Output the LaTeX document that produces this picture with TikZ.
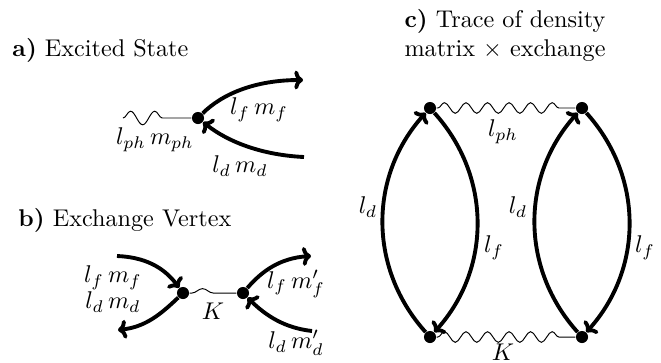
\documentclass[tikz,border=0pt]{standalone}
\usetikzlibrary{decorations.pathmorphing,arrows.meta}
\begin{document}
\begin{tikzpicture}[x=0.4133pt,y=-0.4133pt,
  vdot/.style={circle,fill=black,inner sep=0pt,minimum size=5pt},
  fline/.style={line width=1.6pt,-{To[length=3.6pt,width=7.8pt]}},
  wavy/.style={thin,decorate,decoration={snake,segment length=#1,amplitude=2.2pt,pre length=0.5pt,post length=3pt}},
  lbl/.style={inner sep=1pt},
  ttl/.style={anchor=west,inner sep=0pt}]
\useasboundingbox (0,0) rectangle (661,362);
% ---------- panel a
\node[ttl] (ta) at (12,50) {\textbf{a)} Excited State};
\node[vdot] (A) at (198,118) {};
\coordinate (Aw) at (123,118);
\coordinate (Aout) at (303,80);
\coordinate (Ain) at (304,157);
\draw[thin,decorate,decoration={snake,segment length=10pt,amplitude=2.8pt,post length=10pt}] (Aw) -- (A);
\draw[fline] (A) .. controls (222,94) and (255,80) .. (Aout);
\draw[fline] (Ain) .. controls (262,155) and (228,142) .. (A);
\node[lbl] (Aph) at (155,140) {$l_{ph}\,m_{ph}$};
\node[lbl] (Af) at (259,110) {$l_f\,m_f$};
\node[lbl] (Ad) at (240,166) {$l_d\,m_d$};
% ---------- panel b
\node[ttl] (tb) at (18,220) {\textbf{b)} Exchange Vertex};
\node[vdot] (B1) at (183,293) {};
\node[vdot] (B2) at (243,293) {};
\draw[thin,decorate,decoration={snake,segment length=14pt,amplitude=1.8pt,pre length=1pt,post length=4pt}] (B1) -- (B2);
\coordinate (Bfi) at (117,256);
\coordinate (Bdo) at (118,330);
\coordinate (Bfo) at (311,256);
\coordinate (Bdi) at (312,331);
\draw[fline] (Bfi) .. controls (143,257) and (163,266) .. (B1);
\draw[fline] (B1) .. controls (160,315) and (145,327) .. (Bdo);
\draw[fline] (B2) .. controls (262,271) and (280,258) .. (Bfo);
\draw[fline] (Bdi) .. controls (285,328) and (266,316) .. (B2);
\node[lbl] (Kb) at (213,311) {$K$};
\node[lbl] (Bf) at (113,278) {$l_f\,m_f$};
\node[lbl] (Bd) at (113,302) {$l_d\,m_d$};
\node[lbl] (Bf2) at (296,284) {$l_f\,m'_f$};
\node[lbl] (Bd2) at (296,343) {$l_d\,m'_d$};
% ---------- panel c
\node[align=center] (tc) at (505,35) {\textbf{c)} Trace of density\\matrix $\times$ exchange};
\node[vdot] (TL) at (430,108) {};
\node[vdot] (TR) at (582,108) {};
\node[vdot] (BL) at (430,337) {};
\node[vdot] (BR) at (582,337) {};
\draw[wavy=8.9pt] (TL) -- (TR);
\draw[wavy=8.9pt] (BL) -- (BR);
\draw[fline] (BL) to[bend left=42] (TL);
\draw[fline] (TL) to[bend left=42] (BL);
\draw[fline] (BR) to[bend left=42] (TR);
\draw[fline] (TR) to[bend left=42] (BR);
\node[lbl] (Cph) at (503,132) {$l_{ph}$};
\node[lbl] (CK) at (503,352) {$K$};
\node[lbl] (Cd1) at (368,207) {$l_d$};
\node[lbl] (Cf1) at (494,248) {$l_f$};
\node[lbl] (Cd2) at (518,207) {$l_d$};
\node[lbl] (Cf2) at (645,248) {$l_f$};
\end{tikzpicture}
\end{document}
